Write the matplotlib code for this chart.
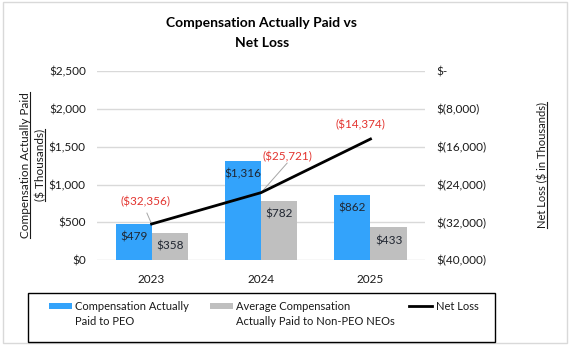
import numpy as np
import matplotlib
matplotlib.use('Agg')
import matplotlib.pyplot as plt
from matplotlib.lines import Line2D
from matplotlib.patches import Rectangle

# chart data
years = ['2023', '2024', '2025']
cap_peo = [479, 1316, 862]
cap_neo = [358, 782, 433]
net_loss = [-32356, -25721, -14374]

left_ticks = [0, 500, 1000, 1500, 2000, 2500]
left_labels = ['$0', '$500', '$1,000', '$1,500', '$2,000', '$2,500']
right_ticks = [-40000, -32000, -24000, -16000, -8000, 0]
right_labels = ['$(40,000)', '$(32,000)', '$(24,000)', '$(16,000)', '$(8,000)', '$-']

legend_labels = ['Compensation Actually\nPaid to PEO',
                 'Average Compensation\nActually Paid to Non-PEO NEOs',
                 'Net Loss']

BLUE = '#33A3FB'
GRAY = '#BFBFBF'
RED = '#E3342F'
TXT = '#1a1a1a'
FS = 8.5

plt.rcParams['font.family'] = ['Lato', 'DejaVu Sans']

fig = plt.figure(figsize=(5.7, 3.45), dpi=100)
W, H = 570.0, 345.0


def px(xp, yp):
    # pixel position (from top-left) to figure fraction
    return xp / W, 1 - yp / H


fig.patches.append(Rectangle((0.005, 0.006), 0.99, 0.988, transform=fig.transFigure,
                             fill=False, edgecolor='#D9D9D9', linewidth=1))

ax = fig.add_axes([0.170, 0.246, 0.576, 0.548])
x = np.arange(len(years))
w = 0.33

b1 = ax.bar(x - w / 2, cap_peo, w, color=BLUE, zorder=2)
b2 = ax.bar(x + w / 2, cap_neo, w, color=GRAY, zorder=2)

for bars, vals in ((b1, cap_peo), (b2, cap_neo)):
    for r, v in zip(bars, vals):
        ax.annotate('${:,}'.format(v), (r.get_x() + r.get_width() / 2, v),
                    xytext=(0, -9.5), textcoords='offset points', ha='center', va='center',
                    fontsize=FS, color='#202631', zorder=3)

ax.set_ylim(0, 2500)
ax.set_xlim(-0.5, 2.5)
ax.set_yticks(left_ticks)
ax.set_yticklabels(left_labels)
ax.set_xticks(x)
ax.set_xticklabels(years)
ax.tick_params(length=0, labelsize=FS, colors=TXT, pad=8)
ax.tick_params(axis='x', pad=10)
ax.grid(axis='y', color='#D9D9D9', linewidth=1, zorder=0)
ax.set_axisbelow(True)
for s in ax.spines.values():
    s.set_visible(False)

ax2 = ax.twinx()
ln, = ax2.plot(x, net_loss, color='black', linewidth=2, zorder=4)
ax2.set_ylim(-40000, 0)
ax2.set_yticks(right_ticks)
ax2.set_yticklabels(right_labels)
ax2.tick_params(length=0, labelsize=FS, colors=TXT, pad=8)
for s in ax2.spines.values():
    s.set_visible(False)

# net loss labels (label x, label y, leader start or None)
label_pos = [(-0.06, -27700, (-0.043, -30050)),
             (1.24, -18200, (1.238, -19470)),
             (1.906, -11400, None)]
for i, (lx, ly, lead) in enumerate(label_pos):
    ax2.text(lx, ly, '(${:,})'.format(-net_loss[i]), color=RED, fontsize=FS,
             ha='center', va='center')
    if lead:
        ax2.plot([lead[0], x[i]], [lead[1], net_loss[i]], color='#A6A6A6',
                 linewidth=0.7, zorder=3)

# title
fig.text(*px(262, 33), 'Compensation Actually Paid vs\nNet Loss', ha='center', va='center',
         fontsize=10, fontweight='bold', color='black', linespacing=1.85)

# axis titles (underlined)
t1 = fig.text(*px(26, 165), 'Compensation Actually Paid', rotation=90, ha='center', va='center',
              fontsize=8.5, color=TXT)
t2 = fig.text(*px(41, 165), '($ Thousands)', rotation=90, ha='center', va='center',
              fontsize=8.5, color=TXT)
t3 = fig.text(*px(543, 165), 'Net Loss ($ in Thousands)', rotation=90, ha='center', va='center',
              fontsize=8, color=TXT)

# legend box drawn by hand so the keys sit on the first text line
x0, y0 = px(28, 342)
fig.patches.append(Rectangle((x0, y0), 467 / W, 49 / H, transform=fig.transFigure,
                             fill=False, edgecolor='black', linewidth=1))
for (hx, tx), col in zip(((49, 75), (210, 236)), (BLUE, GRAY)):
    rx, ry = px(hx, 309)
    fig.patches.append(Rectangle((rx, ry), 23 / W, 6 / H, transform=fig.transFigure,
                                 facecolor=col, edgecolor='none'))
fig.add_artist(Line2D([409 / W, 432 / W], [1 - 305.5 / H] * 2, transform=fig.transFigure,
                      color='black', linewidth=2))
for tx, lab in zip((75, 236), legend_labels[:2]):
    fig.text(*px(tx, 314), lab, ha='left', va='center', fontsize=8, color=TXT, linespacing=1.45)
fig.text(*px(436, 306), legend_labels[2], ha='left', va='center', fontsize=8, color=TXT)

fig.canvas.draw()
r = fig.canvas.get_renderer()
for t in (t1, t2, t3):
    bb = t.get_window_extent(r)
    ux = (bb.x1 - 1.2) / W
    fig.add_artist(Line2D([ux, ux], [bb.y0 / H, bb.y1 / H], transform=fig.transFigure,
                          color=TXT, linewidth=0.8))

fig.savefig('out.png', dpi=100)
